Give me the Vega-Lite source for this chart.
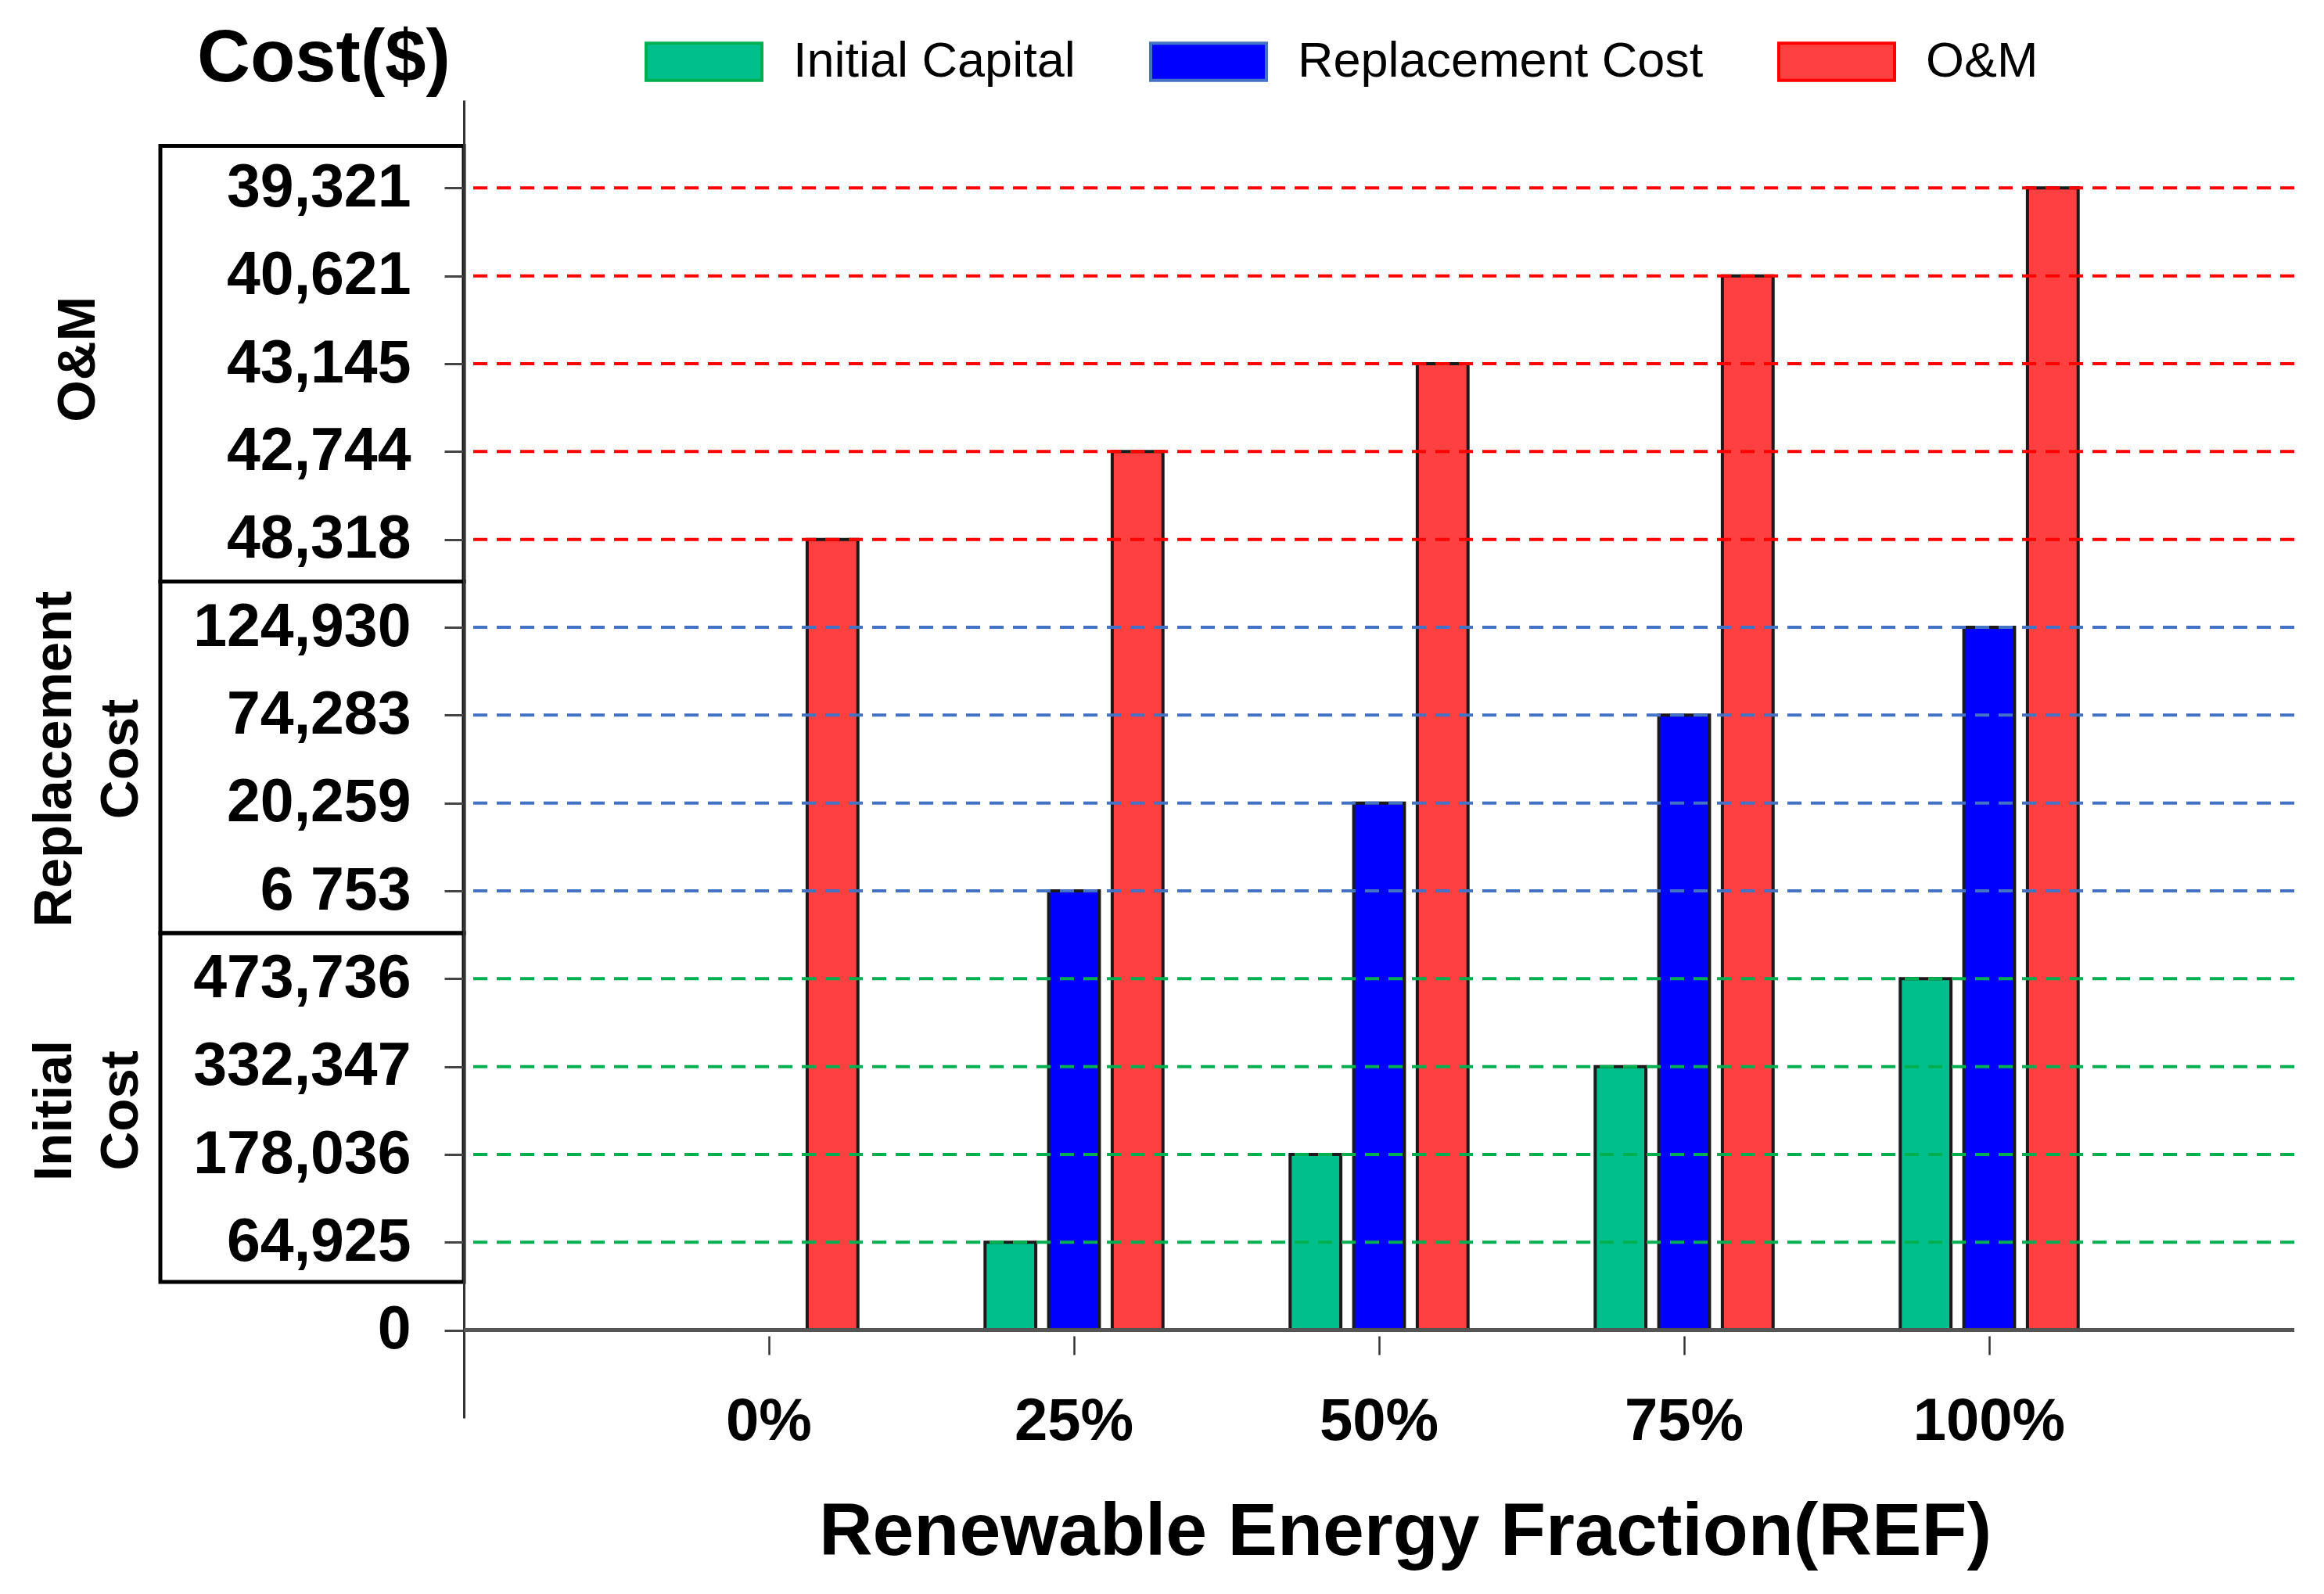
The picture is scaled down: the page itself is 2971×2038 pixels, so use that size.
{
  "$schema": "https://vega.github.io/schema/vega-lite/v6.json",
  "background": "white",
  "padding": {"left": 0, "top": 3, "right": 20, "bottom": 20},
  "bounds": "flush",
  "spacing": 0,
  "config": {
    "view": {"stroke": null},
    "font": "Liberation Sans"
  },
  "datasets": {
    "costs": [
      {"ref": "0%", "component": "Initial Capital", "cost": 0, "rank": 0},
      {"ref": "0%", "component": "Replacement Cost", "cost": 0, "rank": 0},
      {"ref": "0%", "component": "O&M", "cost": 48318, "rank": 9},
      {"ref": "25%", "component": "Initial Capital", "cost": 64925, "rank": 1},
      {"ref": "25%", "component": "Replacement Cost", "cost": 6753, "rank": 5},
      {"ref": "25%", "component": "O&M", "cost": 42744, "rank": 10},
      {"ref": "50%", "component": "Initial Capital", "cost": 178036, "rank": 2},
      {"ref": "50%", "component": "Replacement Cost", "cost": 20259, "rank": 6},
      {"ref": "50%", "component": "O&M", "cost": 43145, "rank": 11},
      {"ref": "75%", "component": "Initial Capital", "cost": 332347, "rank": 3},
      {"ref": "75%", "component": "Replacement Cost", "cost": 74283, "rank": 7},
      {"ref": "75%", "component": "O&M", "cost": 40621, "rank": 12},
      {"ref": "100%", "component": "Initial Capital", "cost": 473736, "rank": 4},
      {"ref": "100%", "component": "Replacement Cost", "cost": 124930, "rank": 8},
      {"ref": "100%", "component": "O&M", "cost": 39321, "rank": 13}
    ],
    "groups": [
      {"group": "Initial Cost", "lines": ["Initial", "Cost"], "lo": 0.55, "hi": 4.52, "mid": 2.5},
      {"group": "Replacement Cost", "lines": ["Replacement", "Cost"], "lo": 4.52, "hi": 8.52, "mid": 6.5},
      {"group": "O&M", "lines": ["O&M"], "lo": 8.52, "hi": 13.48, "mid": 11.05}
    ],
    "axisTitle": [
      {"label": "Cost($)"}
    ]
  },
  "hconcat": [
    {
      "width": 593,
      "height": 1685,
      "data": {"name": "groups"},
      "layer": [
        {
          "mark": {"type": "rect", "filled": false, "stroke": "black", "strokeWidth": 5},
          "encoding": {
            "x": {"datum": 0.3457, "type": "quantitative", "scale": {"domain": [0, 1]}, "axis": null},
            "x2": {"datum": 1},
            "y": {"field": "lo", "type": "quantitative", "scale": {"domain": [-1, 14], "nice": false}, "axis": null},
            "y2": {"field": "hi"}
          }
        },
        {
          "transform": [{"filter": "datum.group !== 'O&M'"}],
          "mark": {"type": "text", "angle": 270, "fontSize": 69, "fontWeight": "bold", "lineHeight": 85, "baseline": "middle", "align": "center", "color": "black"},
          "encoding": {
            "x": {"datum": 0.118, "type": "quantitative"},
            "y": {"field": "mid", "type": "quantitative"},
            "text": {"field": "lines"}
          }
        },
        {
          "transform": [{"filter": "datum.group === 'O&M'"}],
          "mark": {"type": "text", "angle": 270, "fontSize": 69, "fontWeight": "bold", "baseline": "middle", "align": "center", "color": "black"},
          "encoding": {
            "x": {"datum": 0.168, "type": "quantitative"},
            "y": {"field": "mid", "type": "quantitative"},
            "text": {"field": "lines"}
          }
        },
        {
          "data": {"name": "axisTitle"},
          "mark": {"type": "text", "align": "right", "baseline": "alphabetic", "fontSize": 94, "fontWeight": "bold", "color": "black"},
          "encoding": {
            "x": {"datum": 0.971, "type": "quantitative"},
            "y": {"datum": 14.21, "type": "quantitative"},
            "text": {"field": "label"}
          }
        }
      ]
    },
    {
      "width": 2340,
      "height": 1685,
      "data": {"name": "costs"},
      "layer": [
        {
          "mark": {"type": "bar", "stroke": "#1a1a1a", "strokeWidth": 4},
          "encoding": {
            "x": {
              "field": "ref",
              "type": "nominal",
              "sort": ["0%", "25%", "50%", "75%", "100%"],
              "scale": {"paddingInner": 0, "paddingOuter": 0.5},
              "axis": {
                "orient": "bottom",
                "offset": -105,
                "domain": false,
                "ticks": true,
                "tickSize": 24,
                "tickWidth": 2.5,
                "tickColor": "#333",
                "labelAngle": 0,
                "labelLimit": 0,
                "labelFontSize": 76,
                "labelFontWeight": "bold",
                "labelColor": "black",
                "labelPadding": 48,
                "title": "Renewable Energy Fraction(REF)",
                "titleFontSize": 95,
                "titleFontWeight": "bold",
                "titleColor": "black",
                "titlePadding": 57,
                "titleX": 1203
              }
            },
            "xOffset": {
              "field": "component",
              "type": "nominal",
              "sort": ["Initial Capital", "Replacement Cost", "O&M"],
              "scale": {"paddingInner": 0.2025, "paddingOuter": 1.07}
            },
            "y": {
              "field": "rank",
              "type": "quantitative",
              "title": null,
              "scale": {"domain": [-1, 14], "nice": false},
              "axis": {
                "values": [0, 1, 2, 3, 4, 5, 6, 7, 8, 9, 10, 11, 12, 13],
                "labelExpr": "['0','64,925','178,036','332,347','473,736','6 753','20,259','74,283','124,930','48,318','42,744','43,145','40,621','39,321'][datum.value]",
                "labelLimit": 0,
                "labelFontSize": 77,
                "labelFontWeight": "bold",
                "labelColor": "black",
                "labelPadding": 43,
                "tickSize": 25,
                "tickWidth": 3,
                "tickColor": "#444",
                "domainColor": "#333",
                "domainWidth": 3,
                "grid": false,
                "title": null
              }
            },
            "fill": {
              "field": "component",
              "type": "nominal",
              "scale": {
                "domain": ["Initial Capital", "Replacement Cost", "O&M"],
                "range": ["#00BF8C", "#0000FF", "#FF4040"]
              },
              "legend": {
                "title": null,
                "orient": "none",
                "direction": "horizontal",
                "legendX": 824,
                "legendY": -125,
                "padding": 0,
                "symbolType": "M-1,-0.32H1V0.32H-1Z",
                "symbolSize": 21904,
                "symbolStrokeColor": "#222",
                "symbolStrokeWidth": 4,
                "labelFontSize": 63,
                "labelColor": "black",
                "labelOffset": 38,
                "labelLimit": 0,
                "columnPadding": 88
              }
            }
          }
        },
        {
          "transform": [{"filter": "datum.cost > 0"}],
          "mark": {"type": "rule", "strokeDash": [18, 12], "strokeWidth": 4},
          "encoding": {
            "y": {"field": "rank", "type": "quantitative", "title": null},
            "stroke": {
              "field": "component",
              "type": "nominal",
              "scale": {
                "domain": ["Initial Capital", "Replacement Cost", "O&M"],
                "range": ["#00B050", "#4472C4", "#FF0000"]
              },
              "legend": null
            }
          }
        },
        {
          "mark": {"type": "rule", "color": "#555", "strokeWidth": 4},
          "encoding": {
            "y": {"datum": 0, "type": "quantitative", "title": null}
          }
        }
      ]
    }
  ]
}
